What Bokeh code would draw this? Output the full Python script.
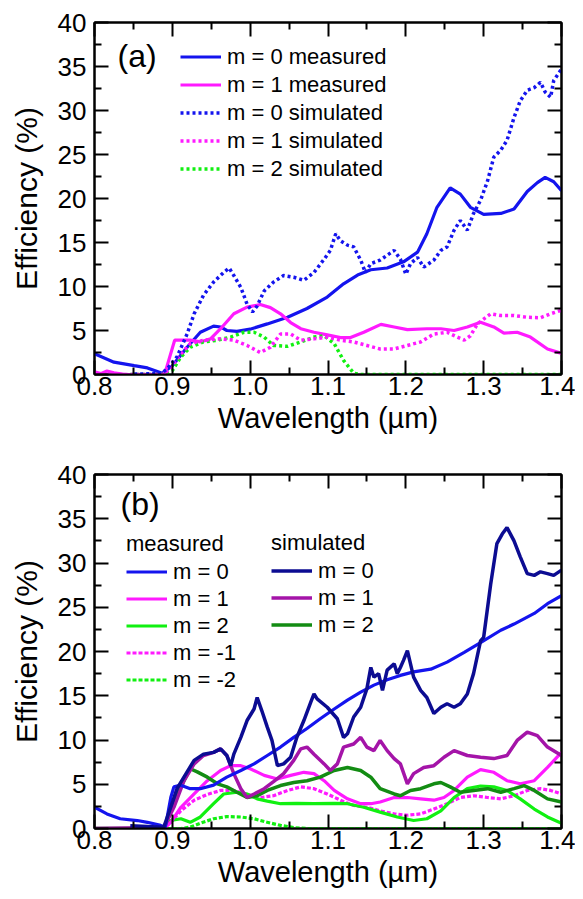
from bokeh.plotting import figure
from bokeh.models import (LinearAxis, FixedTicker, Range1d, Legend, CustomLabelingPolicy,
                          LegendItem, Label, PrintfTickFormatter)
from bokeh.layouts import column
from bokeh.embed import file_html
from bokeh.resources import INLINE

FONT = "Liberation Sans"

# ---------------- axis ticks ----------------
x_major = [0.8, 0.9, 1.0, 1.1, 1.2, 1.3, 1.4]
x_minor = [0.85, 0.95, 1.05, 1.15, 1.25, 1.35]
y_major = [0, 5, 10, 15, 20, 25, 30, 35, 40]
y_minor = [2.5, 7.5, 12.5, 17.5, 22.5, 27.5, 32.5, 37.5]

# ---------------- panel (a) data ----------------
a_m0_x = [0.800, 0.825, 0.851, 0.868, 0.887, 0.900, 0.919, 0.936, 0.953, 0.962, 0.970, 0.983, 1.000,
          1.022, 1.048, 1.073, 1.099, 1.120, 1.138, 1.155, 1.176, 1.197, 1.215, 1.227, 1.240, 1.257,
          1.270, 1.283, 1.300, 1.322, 1.339, 1.356, 1.369, 1.379, 1.390, 1.400]
a_m0_y = [2.35, 1.4, 1.0, 0.75, 0.15, 1.0, 3.1, 4.8, 5.5, 5.4, 5.0, 4.9, 5.15,
          5.75, 6.5, 7.5, 8.8, 10.3, 11.3, 11.9, 12.1, 12.8, 13.9, 16.0, 19.0, 21.2,
          20.5, 19.0, 18.2, 18.3, 18.8, 20.8, 21.8, 22.4, 21.9, 20.9]

a_m1_x = [0.800, 0.808, 0.816, 0.825, 0.840, 0.889, 0.891, 0.903, 0.923, 0.936, 0.949, 0.962, 0.979,
          0.996, 1.013, 1.026, 1.039, 1.052, 1.065, 1.082, 1.099, 1.116, 1.129, 1.146, 1.168, 1.185,
          1.202, 1.227, 1.245, 1.262, 1.279, 1.296, 1.313, 1.326, 1.343, 1.360, 1.382, 1.400]
a_m1_y = [0.3, 0.1, 0.4, 0.2, 0.0, 0.0, 0.3, 3.9, 3.9, 3.7, 4.05, 5.2, 6.9,
          7.65, 7.95, 7.6, 6.9, 5.9, 5.2, 4.8, 4.5, 4.2, 4.2, 4.8, 5.7, 5.4,
          5.1, 5.2, 5.2, 5.0, 5.4, 5.95, 5.4, 4.7, 4.8, 4.25, 2.9, 2.4]

a_s0_x = [0.851, 0.885, 0.893, 0.906, 0.919, 0.928, 0.940, 0.953, 0.966, 0.973, 0.979, 0.988, 0.996,
          1.003, 1.009, 1.018, 1.030, 1.043, 1.056, 1.069, 1.082, 1.095, 1.103, 1.110, 1.116, 1.125,
          1.133, 1.142, 1.148, 1.155, 1.167, 1.185, 1.193, 1.200, 1.206, 1.215, 1.223, 1.236, 1.245,
          1.253, 1.262, 1.270, 1.279, 1.287, 1.296, 1.305, 1.313, 1.322, 1.330, 1.339, 1.347, 1.356,
          1.365, 1.373, 1.379, 1.386, 1.390, 1.400]
a_s0_y = [0.05, 0.1, 0.6, 2.0, 4.6, 6.9, 9.0, 10.5, 11.6, 12.1, 11.25, 9.9, 8.0,
          7.1, 7.8, 9.5, 10.5, 11.25, 11.05, 10.7, 11.6, 13.1, 14.1, 16.0, 15.2, 14.7,
          14.5, 13.0, 11.6, 12.6, 13.0, 14.1, 13.1, 11.4, 12.6, 13.3, 12.2, 13.0, 14.1,
          14.5, 16.4, 17.5, 16.4, 18.3, 19.8, 22.0, 24.7, 25.5, 26.6, 29.2, 31.1, 32.3,
          32.6, 33.2, 32.1, 31.5, 33.4, 34.7]

a_s1_x = [0.800, 0.889, 0.898, 0.911, 0.923, 0.940, 0.962, 0.979, 0.996, 1.013, 1.026, 1.039, 1.052,
          1.065, 1.082, 1.099, 1.116, 1.133, 1.150, 1.167, 1.185, 1.202, 1.219, 1.236, 1.253, 1.266,
          1.275, 1.283, 1.292, 1.300, 1.309, 1.322, 1.339, 1.356, 1.373, 1.386, 1.400]
a_s1_y = [0.0, 0.0, 0.8, 2.35, 3.5, 3.9, 4.05, 3.9, 3.3, 2.5, 3.1, 4.6, 4.6,
          3.9, 4.05, 4.25, 3.9, 3.7, 3.3, 2.9, 2.9, 3.3, 3.7, 4.6, 4.8, 4.25,
          3.9, 4.4, 5.75, 6.3, 6.9, 6.7, 6.7, 6.5, 6.45, 6.9, 7.3]

a_s2_x = [0.846, 0.889, 0.900, 0.911, 0.923, 0.940, 0.958, 0.975, 0.992, 1.005, 1.018, 1.030, 1.048,
          1.065, 1.082, 1.095, 1.108, 1.120, 1.133, 1.142, 1.400]
a_s2_y = [0.0, 0.0, 0.45, 2.0, 3.1, 3.7, 3.9, 4.25, 4.8, 4.8, 4.25, 3.3, 3.2,
          3.7, 4.25, 4.4, 3.5, 1.6, 0.15, 0.0, 0.0]

# ---------------- panel (b) data ----------------
b_m0_x = [0.800, 0.816, 0.833, 0.855, 0.868, 0.885, 0.891, 0.898, 0.902, 0.911, 0.923, 0.936, 0.953,
          0.970, 0.988, 1.005, 1.022, 1.039, 1.056, 1.073, 1.090, 1.108, 1.125, 1.142, 1.159, 1.176,
          1.193, 1.210, 1.232, 1.253, 1.275, 1.296, 1.322, 1.339, 1.365, 1.382, 1.400]
b_m0_y = [2.4, 1.65, 1.1, 0.9, 0.7, 0.35, 0.15, 3.5, 4.7, 4.9, 4.5, 4.5, 4.9,
          5.8, 6.55, 7.3, 8.25, 9.2, 10.3, 11.3, 12.4, 13.5, 14.5, 15.4, 16.2, 16.8,
          17.3, 17.7, 18.0, 18.8, 19.9, 21.0, 22.4, 23.1, 24.3, 25.4, 26.3]

b_s0_x = [0.846, 0.889, 0.898, 0.906, 0.919, 0.928, 0.940, 0.953, 0.962, 0.970, 0.975, 0.979, 0.988,
          0.996, 1.005, 1.009, 1.015, 1.022, 1.028, 1.035, 1.043, 1.052, 1.060, 1.069, 1.078, 1.082,
          1.086, 1.099, 1.112, 1.120, 1.125, 1.133, 1.142, 1.150, 1.155, 1.159, 1.165, 1.170, 1.176,
          1.185, 1.189, 1.193, 1.197, 1.202, 1.206, 1.210, 1.219, 1.227, 1.236, 1.245, 1.253, 1.262,
          1.270, 1.279, 1.287, 1.296, 1.300, 1.309, 1.317, 1.324, 1.330, 1.339, 1.347, 1.356, 1.365,
          1.373, 1.382, 1.390, 1.400]
b_s0_y = [0.3, 0.15, 2.4, 4.5, 6.4, 7.7, 8.4, 8.6, 9.0, 8.25, 7.1, 8.4, 10.3,
          12.2, 13.5, 14.8, 13.3, 11.45, 9.95, 7.1, 7.3, 8.05, 10.3, 12.2, 14.3, 15.2,
          14.65, 13.7, 12.4, 10.3, 10.7, 12.6, 13.7, 15.8, 18.2, 17.1, 17.5, 15.6, 17.9,
          18.6, 17.5, 18.2, 19.0, 20.1, 18.6, 17.1, 15.6, 14.8, 13.0, 13.7, 14.1, 13.7,
          14.1, 15.2, 17.5, 21.2, 21.6, 27.6, 32.2, 33.3, 34.0, 32.5, 30.7, 28.8, 28.6,
          29.0, 28.8, 28.6, 29.2]

b_m1_x = [0.800, 0.889, 0.898, 0.911, 0.928, 0.945, 0.962, 0.975, 0.988, 1.000, 1.018, 1.035, 1.052,
          1.069, 1.082, 1.095, 1.108, 1.125, 1.142, 1.155, 1.167, 1.185, 1.202, 1.219, 1.236, 1.249,
          1.262, 1.279, 1.296, 1.313, 1.330, 1.347, 1.365, 1.382, 1.400]
b_m1_y = [0.0, 0.0, 0.7, 2.4, 3.9, 5.4, 6.55, 7.1, 7.1, 6.75, 6.0, 5.6, 6.0,
          6.35, 6.2, 5.4, 4.3, 3.35, 2.8, 2.8, 3.0, 3.5, 3.5, 3.35, 3.2, 3.5,
          4.3, 5.8, 6.65, 6.35, 5.4, 5.05, 5.4, 6.9, 8.6]

b_s1_x = [0.800, 0.889, 0.902, 0.915, 0.928, 0.940, 0.953, 0.962, 0.970, 0.979, 0.988, 0.996, 1.005,
          1.018, 1.030, 1.043, 1.056, 1.065, 1.073, 1.082, 1.095, 1.103, 1.112, 1.120, 1.133, 1.142,
          1.150, 1.159, 1.167, 1.176, 1.185, 1.193, 1.202, 1.210, 1.223, 1.236, 1.249, 1.262, 1.279,
          1.296, 1.313, 1.330, 1.343, 1.356, 1.369, 1.382, 1.400]
b_s1_y = [0.0, 0.1, 2.4, 5.4, 7.3, 8.25, 8.6, 9.0, 8.25, 6.2, 4.5, 3.5, 3.9,
          4.5, 5.3, 6.2, 7.7, 9.0, 9.2, 8.4, 7.3, 6.55, 7.3, 9.2, 9.55, 10.3,
          9.2, 8.8, 9.95, 8.8, 7.9, 7.3, 5.05, 6.2, 6.9, 7.1, 8.05, 8.8, 8.25,
          8.05, 7.9, 8.25, 9.95, 10.9, 10.5, 9.2, 8.25]

b_m2_x = [0.800, 0.889, 0.898, 0.911, 0.923, 0.936, 0.953, 0.966, 0.983, 0.996, 1.009, 1.022, 1.039,
          1.060, 1.082, 1.108, 1.125, 1.146, 1.167, 1.189, 1.210, 1.227, 1.245, 1.262, 1.279, 1.296,
          1.313, 1.330, 1.347, 1.365, 1.382, 1.400]
b_m2_y = [0.0, 0.0, 0.9, 1.1, 0.7, 1.3, 2.8, 3.9, 4.1, 3.9, 3.35, 3.1, 2.8,
          2.85, 2.8, 2.85, 2.8, 2.4, 1.85, 1.3, 0.9, 1.1, 2.0, 3.5, 4.5, 4.8,
          4.7, 4.3, 3.35, 2.2, 1.3, 0.6]

b_s2_x = [0.800, 0.889, 0.898, 0.906, 0.915, 0.923, 0.932, 0.945, 0.958, 0.970, 0.983, 0.996, 1.009,
          1.022, 1.039, 1.056, 1.073, 1.090, 1.108, 1.125, 1.142, 1.155, 1.167, 1.185, 1.193, 1.206,
          1.219, 1.236, 1.245, 1.257, 1.270, 1.287, 1.305, 1.322, 1.339, 1.352, 1.365, 1.382, 1.400]
b_s2_y = [0.0, 0.0, 2.0, 3.9, 5.4, 6.75, 6.4, 5.8, 5.05, 4.7, 4.1, 3.5, 3.7,
          4.3, 4.85, 5.2, 5.4, 5.8, 6.55, 6.9, 6.55, 5.8, 4.5, 3.9, 3.7, 4.3,
          4.5, 5.05, 5.2, 4.7, 4.1, 4.3, 4.5, 4.1, 4.5, 4.85, 4.3, 3.35, 3.0]

b_mm1_x = [0.800, 0.889, 0.898, 0.911, 0.928, 0.945, 0.962, 0.979, 0.996, 1.013, 1.030, 1.048, 1.065,
           1.082, 1.099, 1.116, 1.133, 1.150, 1.167, 1.185, 1.202, 1.219, 1.236, 1.253, 1.270, 1.287,
           1.305, 1.322, 1.339, 1.356, 1.373, 1.386, 1.400]
b_mm1_y = [0.0, 0.0, 0.7, 2.0, 3.2, 3.85, 4.3, 4.3, 3.85, 3.5, 3.7, 4.3, 4.7,
           4.5, 3.9, 3.2, 2.6, 2.4, 2.0, 1.65, 1.5, 1.65, 2.2, 2.8, 3.5, 3.7,
           3.5, 3.35, 3.7, 4.3, 4.5, 4.3, 3.9]

b_mm2_x = [0.800, 0.911, 0.923, 0.936, 0.953, 0.970, 0.988, 1.005, 1.022, 1.039, 1.056, 1.073, 1.400]
b_mm2_y = [0.0, 0.0, 0.15, 0.6, 1.1, 1.35, 1.3, 1.1, 0.7, 0.35, 0.1, 0.0, 0.0]

BLUE = "#1414EE"
MAGENTA = "#FF1AFF"
GREEN = "#11F011"
NAVY = "#0C0C92"
PURPLE = "#A414A8"
DGREEN = "#138C13"

HIDE_ALL = "const ids = []; for (const i of indices) ids.push(i); for (const i of ids) indices.unset(i); return indices"


def style_axis(ax, major, minor, show_labels):
    ax.ticker = FixedTicker(ticks=major, minor_ticks=minor)
    ax.major_tick_in = 14
    ax.major_tick_out = 0
    ax.minor_tick_in = 7
    ax.minor_tick_out = 0
    ax.axis_line_width = 2
    ax.major_tick_line_width = 2
    ax.minor_tick_line_width = 2
    ax.axis_line_color = "black"
    ax.major_tick_line_color = "black"
    ax.minor_tick_line_color = "black"
    ax.major_label_text_font = FONT
    ax.major_label_text_color = "black"
    ax.axis_label_text_font = FONT
    ax.axis_label_text_font_style = "normal"
    ax.axis_label_text_color = "black"
    if show_labels:
        ax.major_label_text_font_size = "26px"
    else:
        ax.major_label_text_font_size = "1px"
        ax.major_label_policy = CustomLabelingPolicy(code=HIDE_ALL)
        ax.major_label_standoff = 0


def make_fig(height, top, bottom):
    p = figure(width=575, height=height, x_range=Range1d(0.8, 1.4), y_range=Range1d(0, 40),
               output_backend="svg", toolbar_location=None,
               min_border_left=94, min_border_right=14, min_border_top=top,
               min_border_bottom=bottom,
               x_axis_label="Wavelength (\u00b5m)", y_axis_label="Efficiency (%)")
    p.xgrid.visible = False
    p.ygrid.visible = False
    p.outline_line_color = "black"
    p.outline_line_width = 2
    p.background_fill_color = "white"
    p.border_fill_color = "white"

    xa = p.xaxis[0]
    style_axis(xa, x_major, x_minor, True)
    xa.formatter = PrintfTickFormatter(format="%.1f")
    xa.major_label_standoff = 2
    xa.axis_label_standoff = 4
    xa.axis_label_text_font_size = "29px"

    ya = p.yaxis[0]
    style_axis(ya, y_major, y_minor, True)
    ya.major_label_standoff = 8
    ya.axis_label_standoff = 12
    ya.axis_label_text_font_size = "30px"

    top_ax = LinearAxis()
    style_axis(top_ax, x_major, x_minor, False)
    p.add_layout(top_ax, "above")

    right_ax = LinearAxis()
    style_axis(right_ax, y_major, y_minor, False)
    p.add_layout(right_ax, "right")
    return p


def style_legend(leg, glyph_w):
    leg.label_text_font = FONT
    leg.label_text_font_size = "22px"
    leg.label_text_color = "black"
    leg.glyph_width = glyph_w
    leg.glyph_height = 27
    leg.label_height = 27
    leg.label_standoff = 6
    leg.padding = 0
    leg.margin = 0
    leg.border_line_color = None
    leg.background_fill_alpha = 0
    leg.title_text_font = FONT
    leg.title_text_font_size = "22px"
    leg.title_text_font_style = "normal"
    leg.title_text_color = "black"
    leg.title_standoff = 1


# ---------------- panel (a) ----------------
pa = make_fig(450, 22, 76)
ra_m0 = pa.line(a_m0_x, a_m0_y, line_color=BLUE, line_width=3.2)
ra_m1 = pa.line(a_m1_x, a_m1_y, line_color=MAGENTA, line_width=3.2)
ra_s2 = pa.line(a_s2_x, a_s2_y, line_color=GREEN, line_width=3.5, line_dash="3 3")
ra_s1 = pa.line(a_s1_x, a_s1_y, line_color=MAGENTA, line_width=3.5, line_dash="3 3")
ra_s0 = pa.line(a_s0_x, a_s0_y, line_color=BLUE, line_width=3.5, line_dash="3 3")

leg_a = Legend(items=[
    LegendItem(label="m = 0 measured", renderers=[ra_m0]),
    LegendItem(label="m = 1 measured", renderers=[ra_m1]),
    LegendItem(label="m = 0 simulated", renderers=[ra_s0]),
    LegendItem(label="m = 1 simulated", renderers=[ra_s1]),
    LegendItem(label="m = 2 simulated", renderers=[ra_s2]),
], location=(86, 192))
style_legend(leg_a, 41)
leg_a.spacing = 1
pa.add_layout(leg_a)
pa.add_layout(Label(x=0.8296, y=36.25, text="(a)", text_font=FONT, text_font_size="32px",
                    text_baseline="middle", text_color="black"))

# ---------------- panel (b) ----------------
pb = make_fig(446, 24, 68)
rb_mm2 = pb.line(b_mm2_x, b_mm2_y, line_color=GREEN, line_width=3.2, line_dash="4 2")
rb_mm1 = pb.line(b_mm1_x, b_mm1_y, line_color=MAGENTA, line_width=3.2, line_dash="4 2")
rb_m2 = pb.line(b_m2_x, b_m2_y, line_color=GREEN, line_width=3.2)
rb_m1 = pb.line(b_m1_x, b_m1_y, line_color=MAGENTA, line_width=3.2)
rb_s2 = pb.line(b_s2_x, b_s2_y, line_color=DGREEN, line_width=3.5)
rb_s1 = pb.line(b_s1_x, b_s1_y, line_color=PURPLE, line_width=3.5)
rb_m0 = pb.line(b_m0_x, b_m0_y, line_color=BLUE, line_width=3.2)
rb_s0 = pb.line(b_s0_x, b_s0_y, line_color=NAVY, line_width=3.5)

leg_bm = Legend(title="measured", items=[
    LegendItem(label="m = 0", renderers=[rb_m0]),
    LegendItem(label="m = 1", renderers=[rb_m1]),
    LegendItem(label="m = 2", renderers=[rb_m2]),
    LegendItem(label="m = -1", renderers=[rb_mm1]),
    LegendItem(label="m = -2", renderers=[rb_mm2]),
], location=(32, 135))
style_legend(leg_bm, 41)
leg_bm.spacing = 0
pb.add_layout(leg_bm)

leg_bs = Legend(title="simulated", items=[
    LegendItem(label="m = 0", renderers=[rb_s0]),
    LegendItem(label="m = 1", renderers=[rb_s1]),
    LegendItem(label="m = 2", renderers=[rb_s2]),
], location=(177, 190))
style_legend(leg_bs, 41)
leg_bs.spacing = 0
pb.add_layout(leg_bs)

pb.add_layout(Label(x=0.8334, y=36.7, text="(b)", text_font=FONT, text_font_size="32px",
                    text_baseline="middle", text_color="black"))

layout = column(pa, pb)
open("out.html", "w").write(file_html(layout, INLINE))
